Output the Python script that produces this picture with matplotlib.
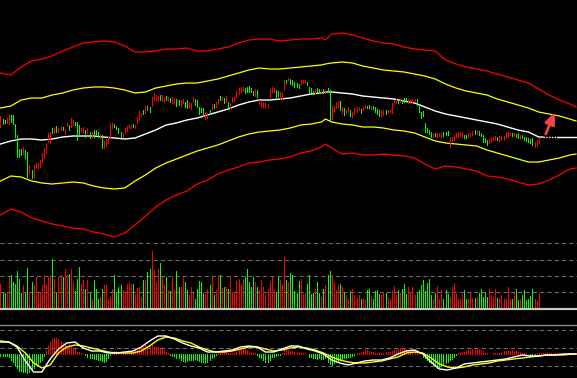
import numpy as np
import matplotlib
matplotlib.use("Agg")
import matplotlib.pyplot as plt

# candle data (one value per trading day)
opens = [
    113, 121, 120, 117, 116, 125, 125, 116, 105, 91, 91, 86, 90, 88, 67, 70, 63, 72, 72, 73,
    78, 82, 87, 98, 97, 112, 107, 114, 108, 110, 113, 106, 114, 115, 113, 115, 118, 118, 115, 108,
    107, 110, 107, 108, 103, 110, 110, 108, 102, 105, 92, 94, 97, 103, 112, 116, 114, 112, 108, 103,
    107, 109, 112, 112, 116, 112, 117, 120, 124, 130, 127, 134, 133, 134, 140, 140, 139, 145, 139, 138,
    144, 140, 142, 137, 136, 141, 140, 133, 137, 138, 140, 133, 131, 138, 141, 140, 133, 132, 132, 121,
    122, 130, 131, 136, 133, 136, 144, 140, 142, 138, 138, 132, 138, 139, 143, 146, 148, 149, 152, 153,
    154, 152, 149, 144, 150, 136, 134, 133, 132, 132, 143, 148, 148, 150, 149, 141, 141, 150, 160, 160,
    161, 160, 158, 157, 156, 156, 157, 157, 158, 153, 152, 149, 147, 152, 151, 147, 151, 147, 152, 150,
    121, 128, 132, 133, 139, 127, 132, 127, 128, 130, 123, 126, 128, 130, 131, 130, 132, 134, 135, 131,
    134, 133, 131, 130, 123, 125, 130, 127, 127, 127, 136, 137, 140, 138, 140, 142, 142, 137, 137, 138,
    138, 141, 135, 128, 129, 117, 112, 110, 108, 103, 107, 103, 104, 103, 108, 108, 109, 93, 99, 100,
    103, 103, 104, 103, 105, 105, 103, 104, 105, 110, 106, 109, 107, 105, 102, 100, 97, 98, 100, 100,
    103, 99, 100, 100, 102, 103, 105, 107, 104, 106, 107, 101, 105, 103, 103, 102, 101, 102, 93, 94,
    97,
]
closes = [
    124, 116, 117, 122, 126, 118, 116, 103, 83, 83, 85, 93, 82, 63, 75, 62, 75, 77, 77, 80,
    87, 92, 97, 107, 108, 107, 113, 108, 112, 114, 110, 111, 117, 110, 122, 120, 115, 100, 105, 112,
    113, 103, 112, 102, 108, 103, 106, 103, 106, 92, 99, 101, 103, 117, 117, 113, 111, 107, 103, 107,
    112, 114, 115, 115, 113, 115, 123, 129, 127, 126, 135, 130, 128, 143, 147, 145, 144, 140, 145, 143,
    140, 143, 138, 143, 142, 134, 135, 140, 141, 133, 132, 138, 137, 143, 135, 133, 126, 128, 124, 128,
    127, 126, 136, 132, 138, 141, 140, 143, 137, 144, 132, 137, 143, 143, 149, 152, 153, 153, 147, 148,
    148, 148, 145, 151, 143, 140, 138, 138, 137, 136, 151, 153, 152, 143, 144, 148, 147, 160, 157, 162,
    156, 155, 153, 153, 152, 160, 160, 160, 155, 147, 148, 146, 151, 148, 147, 150, 147, 150, 148, 120,
    135, 134, 138, 138, 130, 133, 125, 130, 133, 124, 128, 132, 133, 133, 127, 133, 135, 132, 132, 134,
    131, 128, 126, 124, 130, 130, 126, 130, 130, 137, 140, 141, 137, 140, 137, 138, 138, 141, 140, 141,
    141, 135, 128, 122, 124, 108, 108, 106, 103, 107, 104, 107, 107, 107, 104, 105, 105, 103, 103, 105,
    107, 108, 108, 107, 102, 102, 107, 107, 109, 106, 110, 105, 104, 98, 98, 95, 101, 102, 103, 104,
    100, 104, 104, 104, 108, 108, 107, 104, 107, 103, 102, 105, 102, 100, 99, 98, 97, 95, 98, 100,
    102,
]
volumes = [
    24, 15, 15, 16, 31, 33, 26, 24, 37, 29, 15, 23, 15, 40, 16, 26, 23, 31, 15, 15,
    23, 33, 23, 31, 33, 49, 29, 16, 31, 33, 31, 39, 33, 34, 39, 26, 17, 29, 41, 24,
    28, 19, 28, 15, 9, 28, 19, 9, 11, 19, 23, 23, 9, 11, 19, 33, 16, 21, 23, 18,
    16, 24, 26, 24, 24, 14, 20, 21, 11, 28, 28, 36, 39, 57, 38, 26, 39, 45, 31, 23,
    31, 18, 17, 31, 18, 37, 21, 21, 31, 26, 18, 13, 21, 15, 9, 19, 27, 26, 15, 14,
    19, 23, 31, 13, 18, 33, 33, 20, 21, 21, 19, 31, 16, 15, 27, 29, 23, 29, 31, 39,
    26, 21, 31, 26, 21, 18, 28, 21, 14, 19, 26, 31, 18, 16, 31, 28, 23, 51, 28,
    26, 35, 33, 17, 15, 27, 29, 14, 15, 24, 33, 14, 15, 19, 26, 15, 11, 19, 23, 33,
    37, 33, 26, 18, 23, 24, 22, 16, 13, 9, 17, 19, 13, 10, 13, 9, 10, 8, 18, 19,
    12, 9, 17, 18, 14, 13, 16, 15, 11, 9, 17, 22, 13, 18, 15, 19, 24, 14, 21, 16,
    21, 13, 15, 18, 23, 28, 17, 25, 29, 13, 9, 15, 22, 9, 18, 9, 18, 14, 11, 21,
    25, 14, 9, 9, 14, 18, 9, 9, 15, 10, 10, 11, 15, 19, 11, 15, 11, 19, 13, 11,
    19, 10, 9, 13, 9, 9, 21, 9, 9, 15, 19, 8, 9, 13, 18, 8, 9, 12, 19, 9,
    7, 15,
]

# channel lines (sampled on the day index)
band_idx = list(range(0, 156, 5)) + [157] + list(range(160, 276, 5)) + [278]
outer_top = [167, 165, 173, 179, 181, 184, 189, 193, 197, 198, 199, 198, 194, 188, 188, 189, 191, 191, 192, 189,
             189, 191, 193, 197, 200, 201, 201, 199, 200, 201, 201, 202, 200, 206, 207, 205, 202, 199, 197, 196,
             193, 191, 190, 189, 180, 176, 173, 171, 169, 166, 163, 160, 157, 151, 145, 140, 136, 133]
inner_top = [132, 134, 140, 142, 142, 145, 147, 150, 152, 153, 153, 152, 150, 147, 148, 152, 154, 156, 157, 157,
             159, 161, 164, 167, 170, 172, 171, 171, 172, 173, 174, 175, 176, 177, 178, 177, 174, 172, 170, 169,
             168, 166, 164, 161, 156, 152, 149, 147, 145, 141, 138, 135, 132, 128, 126, 124, 121, 119]
inner_bot = [59, 64, 63, 59, 57, 56, 57, 58, 57, 54, 52, 51, 52, 59, 65, 72, 77, 81, 85, 89,
             92, 95, 99, 103, 106, 108, 109, 110, 112, 115, 116, 118, 121, 118, 116, 115, 113, 113, 112, 110,
             109, 107, 103, 99, 97, 96, 95, 94, 90, 87, 84, 81, 78, 78, 80, 82, 85, 86]
outer_bot = [25, 31, 28, 22, 19, 16, 14, 12, 11, 8, 6, 3, 7, 15, 24, 33, 40, 45, 49, 56,
             60, 66, 70, 73, 77, 78, 80, 81, 83, 87, 89, 93, 96, 92, 86, 87, 85, 85, 86, 85,
             84, 82, 76, 71, 74, 73, 71, 69, 64, 63, 61, 58, 55, 56, 60, 65, 71, 72]
mid_idx = list(range(0, 156, 5)) + [157] + list(range(160, 261, 5)) + [262, 269, 278]
mid_line = [96, 99, 101, 101, 100, 101, 103, 104, 104, 104, 103, 102, 101, 102, 106, 110, 115, 117, 120, 122,
            125, 128, 131, 135, 138, 140, 140, 141, 142, 144, 146, 147, 148, 148, 147, 146, 144, 143, 142, 141,
            139, 137, 133, 129, 126, 124, 122, 120, 118, 116, 113, 110, 108, 103, 103, 103, 103]

# MACD
macd_idx = list(range(0, 277, 4)) + [278]
dif = [12, 12, 7, -7, -18, -18, -5, 5, 11, 12, 6, 3, 3, 1, 1, 2, 3, 7, 13, 18,
       18, 15, 11, 8, 6, 2, 2, 3, 4, 7, 8, 7, 2, 2, 5, 8, 8, 5, 3, 0,
       -6, -9, -11, -9, -7, -6, -6, -4, 0, 3, 4, 0, -8, -15, -16, -14, -10, -9, -8, -7,
       -6, -5, -3, -1, -2, -2, -1, -1, 0, 0, 0]
dea = [13, 12, 8, 1, -9, -14, -11, 1, 7, 9, 8, 6, 4, 2, 1, 1, 1, 3, 8, 14,
       17, 16, 13, 11, 7, 4, 2, 2, 3, 5, 7, 7, 5, 3, 4, 6, 7, 6, 4, 1,
       -3, -6, -8, -9, -9, -8, -7, -5, -3, 1, 2, 1, -4, -10, -13, -14, -13, -11, -10, -9,
       -7, -6, -5, -4, -3, -2, -1, -1, -1, 0, 0]
hist = [-2, -2, -2, -2, -3, -6, -8, -11, -14, -17, -17, -18, -18, -19, -18, -16, -14, -11, -10, -8,
        -6, -2, 4, 9, 12, 15, 16, 16, 15, 13, 11, 9, 7, 9, 7, 5, 5, 2, 2, 1,
        0, -1, -3, -4, -4, -5, -5, -6, -6, -7, -8, -7, -4, -1, 2, 3, 3, 2, 1, 1,
        2, 1, 2, 2, 3, 4, 4, 5, 6, 7, 9, 8, 9, 9, 8, 7, 7, 6, 5, 4,
        2, 1, -1, -2, -2, -4, -4, -6, -7, -8, -7, -6, -6, -6, -5, -6, -7, -8, -8, -9,
        -8, -6, -4, -3, -1, 1, 3, 3, 3, 2, 1, 1, 1, 1, 2, 4, 5, 6, 5, 4,
        3, 2, 1, 1, -1, -3, -4, -6, -8, -8, -6, -3, -3, -2, -1, -1, 1, 4, 4, 4,
        3, 3, 2, 2, 2, 1, 1, 1, 0, -3, -3, -4, -4, -5, -4, -5, -5, -4, -8, -10,
        -11, -9, -8, -7, -6, -6, -4, -4, -3, -3, -2, -1, 1, 1, 1, 2, 4, 4, 3, 2,
        2, 1, 1, 2, 1, 1, 2, 2, 2, 3, 4, 4, 5, 6, 6, 5, 5, 3, 3, 3,
        2, 1, 1, 0, -3, -4, -6, -8, -9, -11, -12, -14, -13, -12, -11, -9, -8, -6, -5, -3,
        -1, 1, 2, 2, 2, 3, 4, 4, 5, 5, 4, 5, 4, 3, 1, 1, 0, 0, 1, 1,
        1, 1, 2, 3, 3, 3, 3, 4, 3, 3, 2, 2, 1, 1, 1, 0, -1, -1, -1, 1,
        1, 1, 1, 1, 1, 1, 1, 1, 1, 1, 1, 1, 1, 1, 1, 1, 1, 1, 1]

vol_grid = [16, 32, 48, 65]
macd_grid = [24, 6, -12]

RED = "#ff0000"
GREEN = "#00ff00"
GRID = "#6e6e6e"
BAR_LW = 0.7  # about one pixel

W, H = 577, 378
fig = plt.figure(figsize=(W / 100, H / 100), dpi=100, facecolor="black")

def panel(top, bottom):
    ax = fig.add_axes([0, (H - bottom) / H, 1, (bottom - top) / H])
    ax.set_facecolor("none")
    ax.set_axis_off()
    ax.set_xlim(-0.24, 278.5)
    return ax

ax_p = panel(0, 240)
ax_v = panel(238, 311)
ax_m = panel(324, 378)

# price panel
o = np.array(opens)
c = np.array(closes)
days = np.arange(len(o))
up = c >= o
ax_p.plot(band_idx, outer_top, color=RED, lw=0.9)
ax_p.plot(band_idx, outer_bot, color=RED, lw=0.9)
ax_p.plot(band_idx, inner_top, color="#ffff00", lw=0.9)
ax_p.plot(band_idx, inner_bot, color="#ffff00", lw=0.9)
mi = np.array(mid_idx)
mv = np.array(mid_line)
s1 = mi <= 262
s2 = (mi >= 262) & (mi <= 269)
s3 = mi >= 269
ax_p.plot(mi[s1], mv[s1], color="white", lw=1.0)
ax_p.plot(mi[s2], mv[s2], color="white", lw=1.0, linestyle=(0, (1, 1)))
ax_p.plot(mi[s3], mv[s3], color="white", lw=1.0)
ax_p.vlines(days[up], o[up], c[up], color=RED, lw=BAR_LW, antialiased=False)
ax_p.vlines(days[~up], o[~up], c[~up], color=GREEN, lw=BAR_LW, antialiased=False)
ax_p.annotate("", xy=(267.8, 128), xytext=(263.4, 106),
              arrowprops=dict(arrowstyle="-|>,head_width=0.3,head_length=0.7",
                              color="#f04545", lw=2.0, mutation_scale=10,
                              shrinkA=0, shrinkB=0))
ax_p.set_ylim(0, 240)

# volume panel
v = np.array(volumes)
ax_v.set_ylim(-3, 70)
for g in vol_grid:
    ax_v.axhline(g, color=GRID, lw=0.75, linestyle=(0, (4, 3)))
ax_v.vlines(days[up], 0, v[up], color=RED, lw=BAR_LW, antialiased=False)
ax_v.vlines(days[~up], 0, v[~up], color=GREEN, lw=BAR_LW, antialiased=False)
ax_v.axhline(-1.2, color="#c8c8c8", lw=1.6)

# macd panel
ax_m.set_ylim(-24, 30)
ax_m.axhline(29, color="#8a8a8a", lw=1.0)
for g in macd_grid:
    ax_m.axhline(g, color=GRID, lw=0.75, linestyle=(0, (4, 3)))
h = np.array(hist)
hd = np.arange(len(h))
ax_m.vlines(hd[h > 0], 0, h[h > 0], color=RED, lw=BAR_LW, antialiased=False)
ax_m.vlines(hd[h < 0], 0, h[h < 0], color=GREEN, lw=BAR_LW, antialiased=False)
ax_m.plot(macd_idx, dea, color="#ffff00", lw=1.0)
ax_m.plot(macd_idx, dif, color="white", lw=1.0)

fig.savefig("out.png", dpi=100, facecolor="black")
